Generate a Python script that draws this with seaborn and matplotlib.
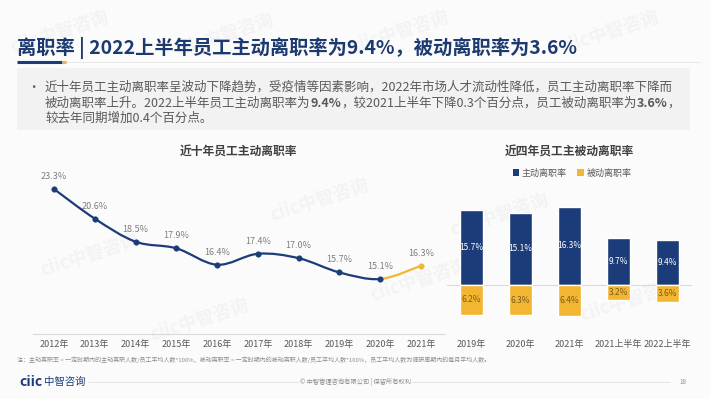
import numpy as np
import pandas as pd
import matplotlib
matplotlib.use("Agg")
import matplotlib.pyplot as plt
import seaborn as sns
from matplotlib.path import Path
from matplotlib.patches import PathPatch, Rectangle, Patch
from matplotlib.lines import Line2D

# ---- data ----
years = ['2012年', '2013年', '2014年', '2015年', '2016年',
         '2017年', '2018年', '2019年', '2020年', '2021年']
active_rate = [23.3, 20.6, 18.5, 17.9, 16.4, 17.4, 17.0, 15.7, 15.1, 16.3]

periods = ['2019年', '2020年', '2021年', '2021上半年', '2022上半年']
active_recent = [15.7, 15.1, 16.3, 9.7, 9.4]
passive_recent = [6.2, 6.3, 6.4, 3.2, 3.6]

# ---- style ----
sns.set_theme(style="white")
plt.rcParams['font.family'] = ['Noto Sans CJK SC', 'DejaVu Sans']

navy = '#1b3c78'
gold = '#f2b632'
grey_txt = '#595959'

W, H = 710, 399
fx = lambda x: x / W
fy = lambda y: 1 - y / H

fig = plt.figure(figsize=(7.1, 3.99), dpi=100, facecolor='#fbfbfb')

# faint watermarks in the background
for wx, wy in [(60, 32), (225, 35), (400, 32), (610, 32), (320, 200), (90, 255),
               (500, 215), (420, 280), (200, 320), (630, 300), (600, 105)]:
    fig.text(fx(wx), fy(wy), 'ciic中智咨询', fontsize=13, fontweight='bold', color='#f3f3f3',
             rotation=18, ha='center', va='center', zorder=-1)

# ---- header ----
fig.text(fx(17), fy(48), '离职率 | 2022上半年员工主动离职率为9.4%，被动离职率为3.6%',
         fontsize=13.9, fontweight='bold', color='#1d3a70', va='center', ha='left')
fig.add_artist(Line2D([fx(66), fx(700)], [fy(61.5)] * 2, lw=0.6, color='#e6e6e6'))
fig.add_artist(Line2D([fx(17), fx(62)], [fy(61.5)] * 2, lw=2.2, color=navy, solid_capstyle='butt'))
fig.add_artist(Line2D([fx(62), fx(66)], [fy(61.5)] * 2, lw=2.2, color=gold, solid_capstyle='butt'))

fig.add_artist(Rectangle((fx(17), fy(130)), fx(690) - fx(17), (130 - 68) / H,
                         transform=fig.transFigure, facecolor='#f2f2f2', edgecolor='none',
                         alpha=0.9, zorder=0))

# ---- left chart: ten-year trend ----
ax1 = fig.add_axes([fx(33), fy(334), fx(445) - fx(33), (334 - 165) / H])
ax1.set_facecolor('none')
xs = np.arange(len(years))
df1 = pd.DataFrame({'x': xs, 'rate': active_rate})


def smooth_path(x, y):
    # Catmull-Rom style bezier through the data points
    pts = np.column_stack([x, y]).astype(float)
    verts = [pts[0]]
    codes = [Path.MOVETO]
    n = len(pts)
    for i in range(n - 1):
        p0 = pts[i - 1] if i > 0 else pts[i]
        p1, p2 = pts[i], pts[i + 1]
        p3 = pts[i + 2] if i + 2 < n else pts[i + 1]
        c1 = p1 + (p2 - p0) / 6
        c2 = p2 - (p3 - p1) / 6
        verts += [c1, c2, p2]
        codes += [Path.CURVE4] * 3
    return verts, codes


verts, codes = smooth_path(xs, active_rate)
nblue = 1 + 3 * (len(xs) - 2)
ax1.add_patch(PathPatch(Path(verts[:nblue], codes[:nblue]), fill=False, edgecolor=navy, lw=1.6))
tail_v = [verts[nblue - 1]] + verts[nblue:]
tail_c = [Path.MOVETO] + codes[nblue:]
ax1.add_patch(PathPatch(Path(tail_v, tail_c), fill=False, edgecolor=gold, lw=1.6))

sns.scatterplot(data=df1.iloc[:-1], x='x', y='rate', color=navy, s=16, edgecolor=navy, ax=ax1, zorder=3)
sns.scatterplot(data=df1.iloc[-1:], x='x', y='rate', color=gold, s=16, edgecolor=gold, ax=ax1, zorder=3)

for x, v in zip(xs, active_rate):
    ax1.annotate(f'{v}%', (x, v), xytext=(0, 9), textcoords='offset points',
                 ha='center', va='center', fontsize=6.5, color='#7f7f7f')

ax1.set_xlim(-0.515, 9.59)
ax1.set_ylim(10.09, 25.49)
ax1.set_xticks(xs, years)
ax1.set_yticks([])
ax1.set_xlabel('')
ax1.set_ylabel('')
ax1.tick_params(axis='x', length=0, pad=4.5, labelsize=6.5, labelcolor=grey_txt)
for s in ['top', 'right', 'left']:
    ax1.spines[s].set_visible(False)
ax1.spines['bottom'].set_color('#d9d9d9')
ax1.spines['bottom'].set_linewidth(0.8)

fig.text(fx(238), fy(152), '近十年员工主动离职率', ha='center', va='center',
         fontsize=8.5, fontweight='bold', color='#404040')

# ---- right chart: recent active / passive ----
ax2 = fig.add_axes([fx(447), fy(330), fx(692) - fx(447), (330 - 195) / H])
ax2.set_facecolor('none')
sns.barplot(x=periods, y=active_recent, color=navy, saturation=1, width=0.47, ax=ax2)
sns.barplot(x=periods, y=[-p for p in passive_recent], color=gold, saturation=1, width=0.47, ax=ax2)
ax2.axhline(0, color='#d9d9d9', lw=0.8, zorder=0)
for i, (a, p) in enumerate(zip(active_recent, passive_recent)):
    ax2.text(i, a / 2, f'{a}%', ha='center', va='center', fontsize=6, color='white')
    ax2.text(i, -p / 2, f'{p}%', ha='center', va='center', fontsize=6, color='#7a5c1e')
ax2.set_xlim(-0.5, 4.5)
ax2.set_ylim(-9.375, 18.75)
ax2.set_yticks([])
ax2.tick_params(axis='x', length=0, pad=7.5, labelsize=6.5, labelcolor=grey_txt)
sns.despine(ax=ax2, left=True, bottom=True)

handles = [Patch(facecolor=navy, edgecolor='none', label='主动离职率'),
           Patch(facecolor=gold, edgecolor='none', label='被动离职率')]
fig.legend(handles=handles, loc='center', bbox_to_anchor=(fx(572), fy(173)), ncol=2,
           frameon=False, fontsize=6.5, labelcolor=grey_txt, handlelength=0.7, handleheight=0.7,
           handletextpad=0.3, columnspacing=1.2)
fig.text(fx(569), fy(152), '近四年员工主被动离职率', ha='center', va='center',
         fontsize=8.5, fontweight='bold', color='#404040')

# ---- bullet text ----
tfs = 9
fig.text(fx(27), fy(91), '•', fontsize=tfs, color=grey_txt, va='baseline')
fig.text(fx(45), fy(91), '近十年员工主动离职率呈波动下降趋势，受疫情等因素影响，2022年市场人才流动性降低，员工主动离职率下降而',
         fontsize=tfs, color=grey_txt, va='baseline')
pieces = [('被动离职率上升。2022上半年员工主动离职率为', 'normal'), ('9.4%', 'bold'),
          ('，较2021上半年下降0.3个百分点，员工被动离职率为', 'normal'), ('3.6%', 'bold'), ('，', 'normal')]
prev = fig.text(fx(45), fy(107), pieces[0][0], fontsize=tfs, color=grey_txt, va='baseline')
for txt, w in pieces[1:]:
    prev = ax1.annotate(txt, xy=(1, 0), xycoords=prev, ha='left', va='bottom',
                        fontsize=tfs, color=grey_txt, fontweight=w, annotation_clip=False)
fig.text(fx(45), fy(122), '较去年同期增加0.4个百分点。', fontsize=tfs, color=grey_txt, va='baseline')

# ---- footnote & footer ----
fig.text(fx(17), fy(360), '注：主动离职率 = 一定时期内的主动离职人数/员工平均人数*100%，被动离职率 = 一定时期内的被动离职人数/员工平均人数*100%，员工平均人数为调研周期内的每月平均人数。',
         fontsize=4.3, color='#8c8c8c', va='center')
logo = fig.text(fx(19), fy(382), 'ciic', fontsize=10, fontweight='bold', color=navy, va='center')
ax1.annotate('中智咨询', xy=(1, 0.5), xycoords=logo, xytext=(1, 0), textcoords='offset points',
             ha='left', va='center', fontsize=7.5, color=navy, annotation_clip=False)
fig.add_artist(Line2D([fx(88), fx(298)], [fy(382)] * 2, lw=0.5, color='#dddddd'))
fig.add_artist(Line2D([fx(412), fx(670)], [fy(382)] * 2, lw=0.5, color='#dddddd'))
fig.text(fx(355), fy(382), '© 中智管理咨询有限公司 | 保留所有权利', fontsize=4.5, color='#8c8c8c',
         ha='center', va='center')
fig.text(fx(683), fy(382), '18', fontsize=4.5, color='#8c8c8c', ha='center', va='center')

fig.savefig('out.png', dpi=100, facecolor=fig.get_facecolor())
